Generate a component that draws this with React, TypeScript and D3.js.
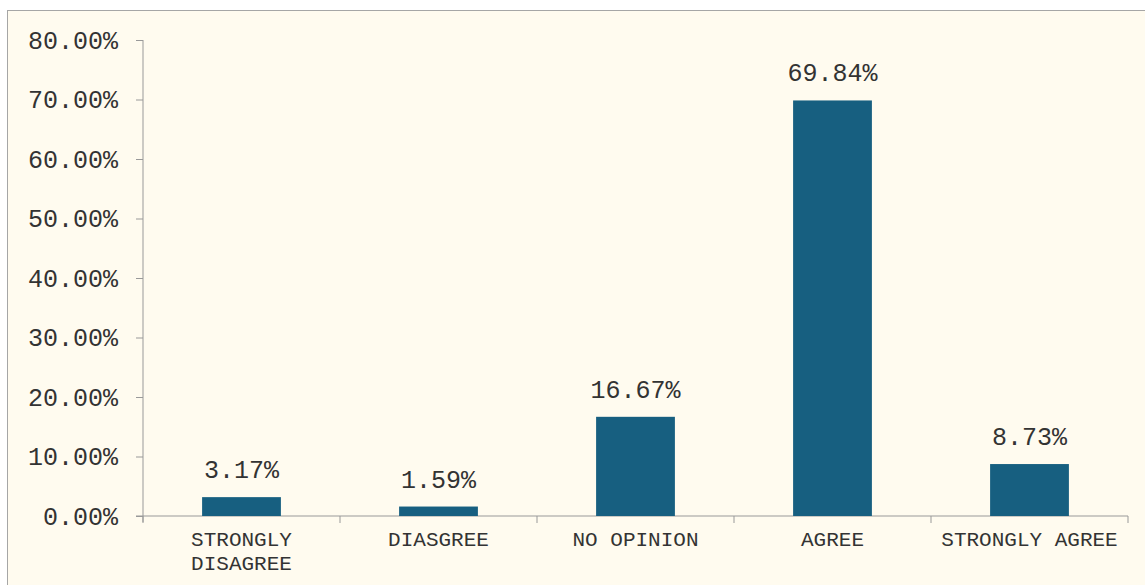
import * as d3 from "d3";
import React, { useEffect, useRef } from "react";

const categories = ["STRONGLY DISAGREE", "DIASGREE", "NO OPINION", "AGREE", "STRONGLY AGREE"];
const values = [3.17, 1.59, 16.67, 69.84, 8.73];
const yTicks = [0, 10, 20, 30, 40, 50, 60, 70, 80];

const W = 1145;
const H = 585;

const App = () => {
  const ref = useRef<SVGSVGElement>(null);

  useEffect(() => {
    const svg = d3.select(ref.current);
    svg.selectAll("*").remove();

    const margin = { left: 143, top: 40, right: 17, bottom: 69 };
    const innerW = W - margin.left - margin.right;
    const innerH = H - margin.top - margin.bottom;

    svg.append("rect")
      .attr("x", 7.5)
      .attr("y", 10.5)
      .attr("width", W + 20)
      .attr("height", H + 20)
      .attr("fill", "#fffbef")
      .attr("stroke", "#a6a6a6");

    const x = d3.scaleBand().domain(categories).range([0, innerW]).paddingInner(0.6).paddingOuter(0.3);
    const y = d3.scaleLinear().domain([0, 80]).range([innerH, 0]);

    const g = svg.append("g").attr("transform", `translate(${margin.left},${margin.top})`);
    const font = "'Liberation Mono', 'Courier New', monospace";
    const step = innerW / categories.length;

    // y axis
    const yAxis = g.append("g")
      .call(d3.axisLeft(y).tickValues(yTicks).tickSize(7).tickPadding(18).tickFormat((d) => `${Number(d).toFixed(2)}%`));
    yAxis.selectAll("line, path").attr("stroke", "#999");
    yAxis.select("path").attr("d", `M0,${innerH + 6}V0`);
    yAxis.selectAll("text").attr("font-family", font).attr("font-size", 25).attr("fill", "#333").attr("dy", "0.32em");

    // x axis
    const xg = g.append("g").attr("transform", `translate(0,${innerH})`);
    xg.append("line").attr("x1", -7).attr("x2", innerW).attr("stroke", "#999");
    xg.selectAll("line.tick")
      .data(d3.range(categories.length + 1))
      .enter()
      .append("line")
      .attr("class", "tick")
      .attr("x1", (i) => i * step)
      .attr("x2", (i) => i * step)
      .attr("y1", 0)
      .attr("y2", 7)
      .attr("stroke", "#999");

    const labels = xg.selectAll("text.cat")
      .data(categories)
      .enter()
      .append("text")
      .attr("class", "cat")
      .attr("text-anchor", "middle")
      .attr("font-family", font)
      .attr("font-size", 21)
      .attr("fill", "#333")
      .attr("y", 30);
    labels.each(function (d) {
      const t = d3.select(this);
      const cx = (x(d) as number) + x.bandwidth() / 2;
      const lines = d.length * 12.6 > step ? d.split(" ") : [d];
      lines.forEach((ln, i) => {
        t.append("tspan").attr("x", cx).attr("dy", i === 0 ? 0 : 23.5).text(ln);
      });
    });

    // bars
    g.selectAll("rect.bar")
      .data(values)
      .enter()
      .append("rect")
      .attr("class", "bar")
      .attr("x", (d, i) => x(categories[i]) as number)
      .attr("y", (d) => y(d))
      .attr("width", x.bandwidth())
      .attr("height", (d) => innerH - y(d))
      .attr("fill", "#175f80");

    g.selectAll("text.val")
      .data(values)
      .enter()
      .append("text")
      .attr("class", "val")
      .attr("x", (d, i) => (x(categories[i]) as number) + x.bandwidth() / 2)
      .attr("y", (d) => y(d) - 19)
      .attr("text-anchor", "middle")
      .attr("font-family", font)
      .attr("font-size", 25)
      .attr("fill", "#333")
      .text((d) => `${d.toFixed(2)}%`);
  }, []);

  return (
    <svg
      ref={ref}
      width={W}
      height={H}
      style={{ position: "absolute", left: 0, top: 0, background: "#fff" }}
    />
  );
};

export default App;
